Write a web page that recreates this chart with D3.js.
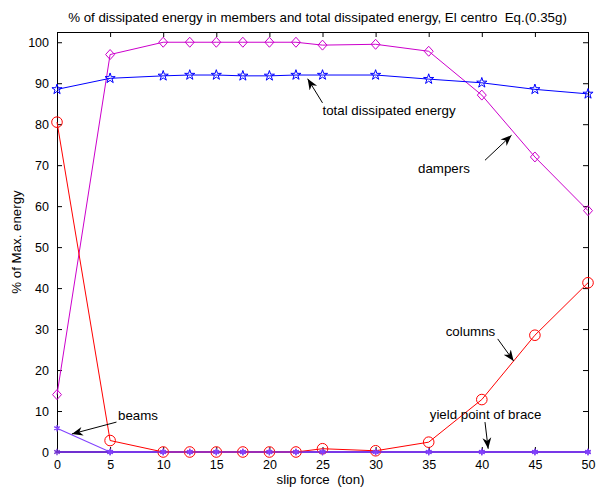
<!DOCTYPE html>
<html>
<head>
<meta charset="utf-8">
<script src="https://cdn.jsdelivr.net/npm/d3@7"></script>
<style>
  body { margin: 0; background: #fff; }
  text { font-family: "Liberation Sans", Arial, sans-serif; }
</style>
</head>
<body>
<div id="chart"></div>
<script>
// slip force values (ton)
const slipForce = [0, 5, 10, 12.5, 15, 17.5, 20, 22.5, 25, 30, 35, 40, 45, 50];
const dampers   = [14, 97, 100, 100, 100, 100, 100, 100, 99.3, 99.5, 97.8, 87.1, 72, 58.9];
const totalDiss = [88.5, 91.2, 91.8, 92, 92, 91.8, 91.8, 92, 92, 92, 91, 90.1, 88.5, 87.4];
const columns   = [80.5, 2.8, 0, 0, 0, 0, 0, 0, 0.8, 0.3, 2.4, 12.8, 28.5, 41.3];
const beams     = [5.8, 0, 0, 0, 0, 0, 0, 0, 0, 0, 0, 0, 0, 0];
const braces    = [0, 0, 0, 0, 0, 0, 0, 0, 0, 0, 0, 0, 0, 0];
const xTicks = [0, 5, 10, 15, 20, 25, 30, 35, 40, 45, 50];
const yTicks = [0, 10, 20, 30, 40, 50, 60, 70, 80, 90, 100];

// annotation arrows: [label, text x, text y, tail x, tail y, tip x, tip y] in data units
const notes = [
    ["total dissipated energy", 25.0, 82.2, 25.0, 85.2, 23.6, 91.1],
    ["dampers", 34.0, 68.0, 40.3, 71.2, 42.8, 77.3],
    ["columns", 36.6, 28.3, 41.5, 27.6, 43.0, 22.2],
    ["beams", 5.75, 7.8, 5.6, 7.3, 1.4, 4.4],
    ["yield point of brace", 35.1, 8.0, 40.3, 7.3, 40.6, 0.8]
];

const W = 597, H = 489;
const margin = { top: 32, left: 57, right: 9, bottom: 37 };
const width = W - margin.left - margin.right,
      height = H - margin.top - margin.bottom;
const fs = 13.3;

const svg = d3.select("#chart").append("svg")
    .attr("width", W).attr("height", H);

svg.append("defs").append("marker")
    .attr("id", "arr")
    .attr("viewBox", "0 0 10 10")
    .attr("refX", 10).attr("refY", 5)
    .attr("markerWidth", 11).attr("markerHeight", 11)
    .attr("markerUnits", "userSpaceOnUse")
    .attr("orient", "auto")
    .append("path").attr("d", "M0,1 L10,5 L0,9 L3,5 Z").attr("fill", "#000");

const g = svg.append("g")
    .attr("transform", "translate(" + margin.left + "," + margin.top + ")");

const x = d3.scaleLinear().domain([0, 50]).range([0, width]);
const y = d3.scaleLinear().domain([0, 102.5]).range([height, 0]);

// axes with inward ticks on all four sides
const fmt = d3.format("d");
g.append("g").attr("transform", "translate(0," + height + ")")
    .call(d3.axisBottom(x).tickValues(xTicks).tickSize(-5).tickPadding(8).tickFormat(fmt));
g.append("g")
    .call(d3.axisLeft(y).tickValues(yTicks).tickSize(-5).tickPadding(8).tickFormat(fmt));
g.append("g")
    .call(d3.axisTop(x).tickValues(xTicks).tickSize(-5).tickFormat(""));
g.append("g").attr("transform", "translate(" + width + ",0)")
    .call(d3.axisRight(y).tickValues(yTicks).tickSize(-5).tickFormat(""));
g.selectAll(".domain").attr("stroke", "#000");
g.selectAll(".tick line").attr("stroke", "#000");
g.selectAll(".tick text").attr("font-size", 12.5).attr("fill", "#000")
    .attr("font-family", "Liberation Sans, Arial, sans-serif");

const line = d3.line().x((d, i) => x(slipForce[i])).y(d => y(d));

function diamond(cx, cy) {
    return "M" + cx + "," + (cy - 5) + "L" + (cx + 4.5) + "," + cy + "L" + cx + "," + (cy + 5) + "L" + (cx - 4.5) + "," + cy + "Z";
}

const series = [
    { vals: braces, color: "#7030d0", mark: "asterisk", lw: 1.8 },
    { vals: dampers, color: "#cc00cc", mark: "diamond", lw: 1 },
    { vals: totalDiss, color: "#0000ff", mark: "star", lw: 1 },
    { vals: columns, color: "#ff0000", mark: "circle", lw: 1 },
    { vals: beams, color: "#8040ff", mark: "asterisk", lw: 1.1 }
];

series.forEach(s => {
    g.append("path").datum(s.vals)
        .attr("d", line).attr("fill", "none")
        .attr("stroke", s.color).attr("stroke-width", s.lw);
    const pts = g.selectAll(null).data(s.vals).enter();
    if (s.mark === "circle") {
        pts.append("circle")
            .attr("cx", (d, i) => x(slipForce[i])).attr("cy", d => y(d))
            .attr("r", 5.3).attr("fill", "none").attr("stroke", s.color);
    } else if (s.mark === "diamond") {
        pts.append("path")
            .attr("d", (d, i) => diamond(x(slipForce[i]), y(d)))
            .attr("fill", "none").attr("stroke", s.color);
    } else if (s.mark === "star") {
        pts.append("path")
            .attr("d", d3.symbol().type(d3.symbolStar).size(32))
            .attr("transform", (d, i) => "translate(" + x(slipForce[i]) + "," + y(d) + ")")
            .attr("fill", "none").attr("stroke", s.color).attr("stroke-width", 1);
    } else {
        pts.append("path")
            .attr("d", d3.symbol().type(d3.symbolAsterisk).size(28))
            .attr("transform", (d, i) => "translate(" + x(slipForce[i]) + "," + y(d) + ")")
            .attr("fill", "none").attr("stroke", s.color).attr("stroke-width", 1.3);
    }
});

// annotations
notes.forEach(n => {
    g.append("text").attr("x", x(n[1])).attr("y", y(n[2]))
        .attr("font-size", fs).attr("fill", "#000").text(n[0]);
    g.append("line")
        .attr("x1", x(n[3])).attr("y1", y(n[4]))
        .attr("x2", x(n[5])).attr("y2", y(n[6]))
        .attr("stroke", "#000").attr("stroke-width", 1)
        .attr("marker-end", "url(#arr)");
});

// titles
svg.append("text").attr("x", margin.left + width / 2 - 5).attr("y", 22)
    .attr("text-anchor", "middle").attr("font-size", fs)
    .text("% of dissipated energy in members and total dissipated energy, El centro  Eq.(0.35g)")
    .style("white-space", "pre");
svg.append("text").attr("x", margin.left + width / 2 - 2).attr("y", 484)
    .attr("text-anchor", "middle").attr("font-size", fs)
    .text("slip force  (ton)").style("white-space", "pre");
svg.append("text")
    .attr("transform", "translate(21," + (margin.top + height / 2) + ") rotate(-90)")
    .attr("text-anchor", "middle").attr("font-size", fs)
    .text("% of Max. energy");
</script>
</body>
</html>
